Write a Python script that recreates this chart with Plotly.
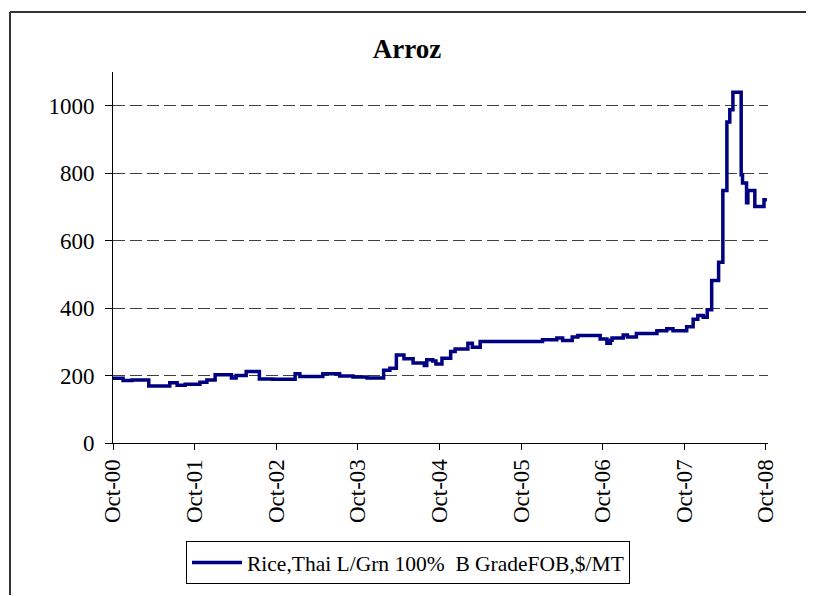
import plotly.graph_objects as go

# Step data (date of change, price in $/MT)
dates = [
    "2000-10-01", "2000-11-15", "2000-12-25", "2001-03-10", "2001-06-12", "2001-07-15",
    "2001-08-20", "2001-10-25", "2001-11-25", "2002-01-01", "2002-03-15", "2002-04-05",
    "2002-05-20", "2002-07-18", "2002-09-15", "2002-12-25", "2003-01-15", "2003-04-28",
    "2003-07-12", "2003-09-10", "2003-11-12", "2004-01-25", "2004-02-22", "2004-03-22",
    "2004-04-25", "2004-06-05", "2004-07-25", "2004-08-05", "2004-09-01", "2004-09-15",
    "2004-10-12", "2004-11-20", "2004-12-10", "2005-02-05", "2005-02-25", "2005-04-01",
    "2006-01-05", "2006-03-10", "2006-04-05", "2006-05-18", "2006-06-12", "2006-09-20",
    "2006-10-20", "2006-11-05", "2006-11-12", "2007-01-01", "2007-01-20", "2007-03-01",
    "2007-06-01", "2007-07-15", "2007-08-12", "2007-10-12", "2007-11-10", "2007-12-01",
    "2007-12-25", "2008-01-12", "2008-02-01", "2008-03-03", "2008-03-22", "2008-04-09",
    "2008-04-22", "2008-05-06", "2008-06-12", "2008-06-18", "2008-07-06", "2008-07-12",
    "2008-08-12", "2008-09-22", "2008-10-05",
]
prices = [
    192, 185, 187, 169, 179, 171,
    174, 180, 187, 202, 193, 200,
    212, 190, 189, 205, 197, 205,
    199, 196, 193, 216, 222, 261,
    250, 237, 230, 247, 243, 234,
    251, 271, 279, 296, 284, 301,
    306, 311, 304, 314, 319, 308,
    296, 305, 311, 320, 314, 325,
    333, 339, 333, 345, 367, 378,
    373, 395, 482, 536, 749, 952,
    988, 1040, 795, 771, 712, 749,
    701, 721, 721,
]

tick_dates = ["2000-10-01", "2001-10-01", "2002-10-01", "2003-10-01", "2004-10-01",
              "2005-10-01", "2006-10-01", "2007-10-01", "2008-10-01"]
tick_labels = ["Oct-00", "Oct-01", "Oct-02", "Oct-03", "Oct-04",
               "Oct-05", "Oct-06", "Oct-07", "Oct-08"]
series_name = "Rice,Thai L/Grn 100%  B GradeFOB,$/MT"

FONT = "Liberation Serif, Times New Roman, serif"

fig = go.Figure()
fig.add_trace(go.Scatter(
    x=dates, y=prices, mode="lines", name=series_name,
    line=dict(color="#000080", width=3.5, shape="hv"),
))

OFF = 8  # page body margin
W, H = 814 - OFF, 596 - OFF
L, T = 113 - OFF, 72 - OFF
R = W - (768 - OFF)
B = H - (443 - OFF)
pw, ph = W - L - R, H - T - B

def px(xp):
    return (xp - OFF - L) / pw

def py(yp):
    return (H - B - (yp - OFF)) / ph

fig.update_layout(
    width=W, height=H,
    margin=dict(l=L, r=R, t=T, b=B),
    paper_bgcolor="white", plot_bgcolor="white",
    font=dict(family=FONT, size=20, color="black"),
    title=dict(text="<b>Arroz</b>", x=(407 - OFF) / W, xref="container",
               y=1 - (49 - OFF) / H, yref="container",
               xanchor="center", yanchor="middle",
               font=dict(family=FONT, size=27, color="black")),
    showlegend=True,
    legend=dict(x=px(408), y=py(541), xanchor="center", yanchor="top",
                bordercolor="black", borderwidth=1, bgcolor="white",
                font=dict(family=FONT, size=21.5, color="black"),
                itemwidth=50),
    xaxis=dict(
        type="date", range=["2000-10-01", "2008-10-10"],
        tickmode="array", tickvals=tick_dates, ticktext=tick_labels,
        tickangle=-90, ticks="outside", ticklen=6, tickcolor="black",
        showline=True, linecolor="black", linewidth=1,
        showgrid=False, zeroline=False,
        tickfont=dict(family=FONT, size=23, color="black"),
    ),
    yaxis=dict(
        range=[0, 1100], tick0=0, dtick=200,
        ticks="outside", ticklen=7, tickcolor="black",
        ticklabelstandoff=6,
        showline=True, linecolor="black", linewidth=1,
        showgrid=True, gridcolor="#404040", gridwidth=1, griddash="12px,5px",
        zeroline=False,
        tickfont=dict(family=FONT, size=23, color="black"),
    ),
    shapes=[
        dict(type="line", xref="paper", yref="paper", x0=px(10), x1=px(10),
             y0=py(12), y1=py(595), line=dict(color="#333333", width=2)),
        dict(type="line", xref="paper", yref="paper", x0=px(10), x1=px(813),
             y0=py(12), y1=py(12), line=dict(color="#333333", width=2)),
    ],
)

fig.write_html(
    "out.html",
    config={"displayModeBar": False},
    post_script="document.documentElement.style.overflow='hidden';"
                "document.body.style.overflow='hidden';",
)
